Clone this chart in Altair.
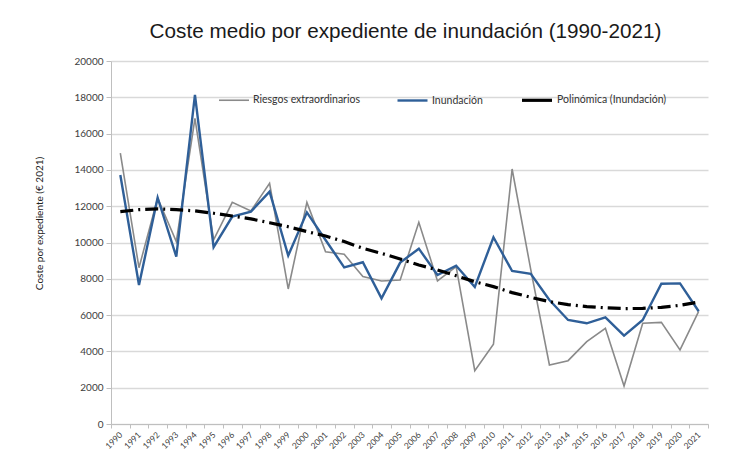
import altair as alt
import pandas as pd

years = list(range(1990, 2022))
riesgos = [14920, 8610, 12440, 10050, 16840, 10140, 12210, 11740, 13260, 7440,
           12210, 9490, 9350, 8120, 7880, 7930, 11110, 7880, 8670, 2940,
           4390, 14050, 8500, 3250, 3490, 4540, 5270, 2090, 5550, 5600,
           4080, 6210]
inundacion = [13720, 7660, 12470, 9220, 18130, 9740, 11430, 11700, 12800, 9280,
              11660, 10140, 8630, 8910, 6920, 8890, 9660, 8210, 8720, 7550,
              10290, 8430, 8270, 6830, 5730, 5550, 5880, 4870, 5730, 7730,
              7750, 6210]
tendencia = [11700, 11810, 11850, 11810, 11740, 11610, 11460, 11300, 11090, 10870,
             10600, 10360, 10050, 9680, 9400, 9090, 8760, 8490, 8170, 7840,
             7570, 7240, 6980, 6740, 6580, 6470, 6400, 6360, 6370, 6430,
             6540, 6720]
series_names = ["Riesgos extraordinarios", "Inundación", "Polinómica (Inundación)"]
series_colors = ["#8a8a8a", "#2f5f98", "#000000"]
series_widths = [1.6, 3.2, 3.2]

frames = []
for name, vals in zip(series_names, [riesgos, inundacion, tendencia]):
    frames.append(pd.DataFrame({"year": [str(y) for y in years], "valor": vals, "serie": name}))
df = pd.concat(frames, ignore_index=True)

x_enc = alt.X("year:O", bandPosition=0.5,
              scale=alt.Scale(type="band", paddingInner=0, paddingOuter=0),
              axis=alt.Axis(title=None, tickBand="extent", labelAngle=-45,
                            labelAlign="right", labelBaseline="middle",
                            labelFont="Lato", labelFontSize=8.5, labelColor="#404040",
                            labelPadding=5, tickSize=4, tickColor="#bfbfbf",
                            domainColor="#bfbfbf", grid=False, labelOverlap=False))
y_enc = alt.Y("valor:Q",
              scale=alt.Scale(domain=[0, 20000], nice=False),
              axis=alt.Axis(title="Coste por expediente (€ 2021)", values=list(range(0, 20001, 2000)),
                            format="d", labelFont="Lato", labelFontSize=10, labelColor="#404040",
                            labelPadding=3, tickSize=5, tickColor="#bfbfbf",
                            domainColor="#bfbfbf", gridColor="#d9d9d9", gridWidth=1.4,
                            titleFont="Lato", titleFontSize=10, titleFontWeight="normal",
                            titleColor="#222222", titleX=-69, titleY=162,
                            titleBaseline="alphabetic", titleAlign="center", titleAngle=270))

legend_kw = dict(title=None, orient="none", direction="horizontal",
                 legendX=107, legendY=22, symbolType="stroke",
                 symbolSize=900, labelFont="Lato", labelFontSize=10.5,
                 labelColor="#333333", labelOffset=3, columnPadding=32,
                 padding=0)
color_enc = alt.Color("serie:N", scale=alt.Scale(domain=series_names, range=series_colors),
                      legend=alt.Legend(**legend_kw))
width_enc = alt.StrokeWidth("serie:N", scale=alt.Scale(domain=series_names, range=series_widths),
                            legend=alt.Legend(**legend_kw))

base = alt.Chart(df)

def layer(name, **mark_kw):
    return base.transform_filter(alt.datum.serie == name).mark_line(**mark_kw).encode(
        x=x_enc, y=y_enc, color=color_enc, strokeWidth=width_enc)

gray = layer("Riesgos extraordinarios")
blue = layer("Inundación")
trend = layer("Polinómica (Inundación)", strokeDash=[13, 5, 2, 5])

chart = alt.layer(gray, blue, trend).properties(
    width=597, height=363,
    title=alt.TitleParams("Coste medio por expediente de inundación (1990-2021)",
                          font="Liberation Sans", fontSize=20.7, fontWeight="normal",
                          color="#1a1a1a", anchor="middle", frame="group",
                          baseline="alphabetic", offset=0, dy=3, dx=-4),
    autosize=alt.AutoSizeParams(type="none"),
    padding={"left": 103, "top": 53, "right": 20, "bottom": 34},
).configure_view(stroke=None)

chart.save("out.html", embed_options={"renderer": "svg", "actions": False})
